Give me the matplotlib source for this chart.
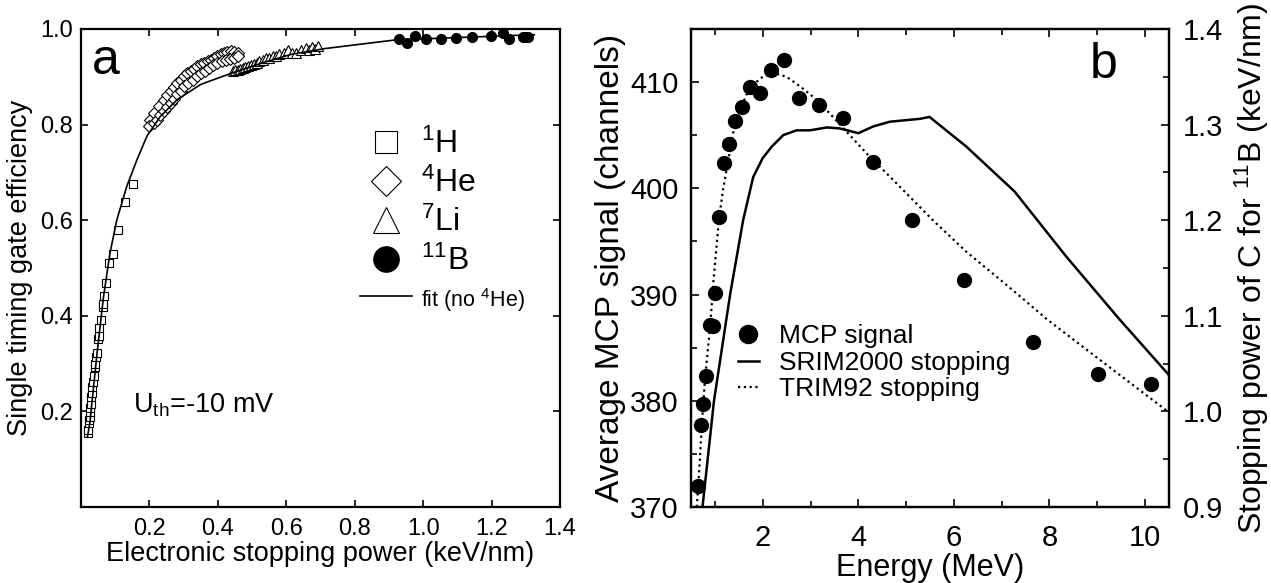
import matplotlib
matplotlib.use('Agg')
import matplotlib.pyplot as plt
from matplotlib.ticker import MultipleLocator

plt.rcParams['font.family'] = ['Liberation Sans', 'DejaVu Sans']
plt.rcParams['mathtext.fontset'] = 'custom'
plt.rcParams['mathtext.rm'] = 'Liberation Sans'
plt.rcParams['mathtext.it'] = 'Liberation Sans'
plt.rcParams['axes.linewidth'] = 1.6

# panel a : timing gate efficiency vs electronic stopping power
h_x = [0.021, 0.022, 0.023, 0.024, 0.025, 0.026, 0.027, 0.028, 0.030, 0.031, 0.033, 0.035,
       0.037, 0.040, 0.042, 0.044, 0.046, 0.049, 0.052, 0.054, 0.058, 0.063, 0.065, 0.068,
       0.074, 0.082, 0.095, 0.107, 0.129, 0.152]
h_y = [0.154, 0.162, 0.175, 0.182, 0.189, 0.198, 0.207, 0.215, 0.230, 0.238, 0.252, 0.262,
       0.273, 0.292, 0.300, 0.313, 0.322, 0.351, 0.358, 0.374, 0.392, 0.419, 0.424, 0.442,
       0.468, 0.510, 0.530, 0.580, 0.637, 0.676]

he_x = [0.203, 0.213, 0.227, 0.242, 0.252, 0.262, 0.272, 0.281, 0.291, 0.301, 0.311, 0.321,
        0.330, 0.340, 0.350, 0.360, 0.370, 0.379, 0.389, 0.399, 0.409, 0.419, 0.428, 0.438,
        0.448, 0.458,
        0.200, 0.212, 0.222, 0.232, 0.242, 0.252, 0.262, 0.272, 0.281, 0.291, 0.301, 0.313,
        0.326, 0.338, 0.350, 0.362, 0.374, 0.387, 0.399, 0.411, 0.424, 0.436, 0.448, 0.458]
he_y = [0.810, 0.825, 0.838, 0.852, 0.862, 0.870, 0.879, 0.887, 0.894, 0.901, 0.907, 0.912,
        0.917, 0.922, 0.926, 0.929, 0.933, 0.936, 0.940, 0.943, 0.947, 0.950, 0.952, 0.953,
        0.952, 0.950,
        0.796, 0.803, 0.810, 0.819, 0.828, 0.836, 0.845, 0.854, 0.863, 0.871, 0.880, 0.887,
        0.894, 0.901, 0.908, 0.913, 0.919, 0.924, 0.929, 0.933, 0.936, 0.938, 0.940, 0.944]

li_x = [0.443, 0.451, 0.458, 0.466, 0.473, 0.480, 0.487, 0.497, 0.507, 0.514, 0.521, 0.531,
        0.541, 0.551, 0.561, 0.570, 0.580, 0.592, 0.605, 0.617, 0.629, 0.644, 0.659, 0.667,
        0.674, 0.684, 0.693]
li_y = [0.912, 0.915, 0.915, 0.917, 0.919, 0.920, 0.922, 0.924, 0.926, 0.929, 0.933, 0.935,
        0.940, 0.939, 0.943, 0.944, 0.947, 0.950, 0.957, 0.949, 0.950, 0.955, 0.961, 0.956,
        0.963, 0.958, 0.964]

b_x = [0.929, 0.953, 0.977, 1.007, 1.051, 1.097, 1.144, 1.198, 1.232, 1.250, 1.291, 1.298, 1.306]
b_y = [0.978, 0.971, 0.986, 0.978, 0.980, 0.981, 0.983, 0.985, 0.991, 0.980, 0.984, 0.984, 0.984]

fit_x = [0.019, 0.026, 0.036, 0.046, 0.056, 0.066, 0.085, 0.105, 0.134, 0.164, 0.193, 0.232,
         0.281, 0.350, 0.438, 0.530, 0.615, 0.713, 0.918, 1.100, 1.325]
fit_y = [0.147, 0.176, 0.245, 0.315, 0.378, 0.440, 0.532, 0.601, 0.671, 0.727, 0.776, 0.817,
         0.852, 0.884, 0.907, 0.929, 0.947, 0.959, 0.977, 0.982, 0.988]

# panel b : MCP signal and stopping power vs energy
e_mcp = [0.64, 0.70, 0.76, 0.81, 0.90, 0.95, 1.00, 1.09, 1.19, 1.30, 1.42, 1.57, 1.73, 1.94,
         2.17, 2.44, 2.76, 3.18, 3.68, 4.31, 5.13, 6.21, 7.65, 9.01, 10.13]
mcp = [372.0, 377.7, 379.7, 382.3, 387.1, 387.0, 390.1, 397.3, 402.4, 404.2, 406.3, 407.7,
       409.5, 409.0, 411.1, 412.1, 408.5, 407.8, 406.6, 402.5, 397.0, 391.4, 385.5, 382.5, 381.6]

e_srim = [0.74, 0.98, 1.32, 1.59, 1.80, 2.00, 2.19, 2.43, 2.71, 2.99, 3.34, 3.61, 4.00, 4.31,
          4.66, 5.29, 5.49, 6.26, 7.27, 8.35, 9.47, 10.50]
srim = [0.900, 1.011, 1.123, 1.200, 1.245, 1.265, 1.277, 1.289, 1.294, 1.294, 1.297, 1.296,
        1.291, 1.298, 1.303, 1.306, 1.308, 1.277, 1.230, 1.162, 1.096, 1.038]

e_trim = [0.62, 0.65, 0.72, 0.79, 0.90, 0.97, 1.09, 1.18, 1.28, 1.38, 1.52, 1.73, 2.00, 2.22,
          2.50, 2.78, 3.13, 3.47, 4.17, 4.87, 5.56, 6.26, 6.89, 7.44, 7.93, 9.00, 10.50]
trim = [0.900, 0.921, 0.981, 1.033, 1.089, 1.137, 1.204, 1.235, 1.263, 1.291, 1.315, 1.339,
        1.350, 1.354, 1.350, 1.340, 1.326, 1.308, 1.270, 1.235, 1.200, 1.167, 1.141, 1.118,
        1.097, 1.056, 0.999]

fig = plt.figure(figsize=(12.71, 5.83), dpi=100)
ax1 = fig.add_axes([0.0637, 0.1304, 0.3769, 0.8199])
ax2 = fig.add_axes([0.5437, 0.1304, 0.3760, 0.8199])
ax3 = ax2.twinx()

# ---- panel a
ax1.plot(fit_x, fit_y, '-', color='black', lw=1.2, label='fit (no $^{4}$He)', zorder=3)
ax1.plot(h_x, h_y, 's', ms=6.3, mfc='white', mec='black', mew=0.8, label='$^{1}$H')
ax1.plot(he_x, he_y, 'D', ms=6, mfc='white', mec='black', mew=0.8, label='$^{4}$He')
ax1.plot(li_x, li_y, '^', ms=7, mfc='white', mec='black', mew=0.8, label='$^{7}$Li')
ax1.plot(b_x, b_y, 'o', ms=7, mfc='black', mec='black', label='$^{11}$B', zorder=4)

ax1.set_xlim(0, 1.4)
ax1.set_ylim(0, 1.0)
ax1.set_xticks([0.2, 0.4, 0.6, 0.8, 1.0, 1.2, 1.4])
ax1.set_yticks([0.2, 0.4, 0.6, 0.8, 1.0])
ax1.tick_params(direction='in', length=5, width=1.2, top=True, right=True, labelsize=17)
ax1.tick_params(axis='x', pad=8)
ax1.tick_params(axis='y', pad=6)
ax1.set_xlabel('Electronic stopping power (keV/nm)', fontsize=19.5, labelpad=1)
ax1.set_ylabel('Single timing gate efficiency', fontsize=19.5, labelpad=5)
ax1.text(0.022, 0.905, 'a', transform=ax1.transAxes, fontsize=36, va='baseline')
ax1.text(0.109, 0.197, 'U$_{\\rm th}$=-10 mV', transform=ax1.transAxes, fontsize=19.5,
         va='baseline')

hs, ls = ax1.get_legend_handles_labels()
order = [1, 2, 3, 4, 0]
leg1 = ax1.legend([hs[i] for i in order], [ls[i] for i in order], loc='upper left',
                  bbox_to_anchor=(0.55, 0.825), frameon=False, fontsize=23, markerscale=2.6,
                  handlelength=1.6, handletextpad=0.3, labelspacing=0.24, borderpad=0)
leg1.get_texts()[4].set_fontsize(15.5)

# ---- panel b
ax2.plot(e_mcp, mcp, 'o', ms=10, color='black', label='MCP signal', zorder=4)
ax3.plot(e_srim, srim, '-', color='black', lw=1.8, label='SRIM2000 stopping')
ax3.plot(e_trim, trim, color='black', lw=1.6, ls=(0, (1, 1.6)), label='TRIM92 stopping')

ax2.set_xlim(0.5, 10.5)
ax2.set_ylim(370, 415)
ax3.set_ylim(0.9, 1.4)
ax2.set_xticks([2, 4, 6, 8, 10])
ax2.xaxis.set_minor_locator(MultipleLocator(1))
ax2.set_yticks([370, 380, 390, 400, 410])
ax2.yaxis.set_minor_locator(MultipleLocator(5))
ax3.set_yticks([0.9, 1.0, 1.1, 1.2, 1.3, 1.4])
ax3.yaxis.set_minor_locator(MultipleLocator(0.05))
ax2.tick_params(which='both', direction='in', width=1.2, top=True, right=False, labelsize=21)
ax2.tick_params(which='major', length=6)
ax2.tick_params(which='minor', length=4)
ax2.tick_params(axis='x', pad=12)
ax2.tick_params(axis='y', pad=9)
ax3.tick_params(which='both', direction='in', width=1.2, labelsize=21, pad=10)
ax3.tick_params(which='major', length=6)
ax3.tick_params(which='minor', length=4)
ax2.set_xlabel('Energy (MeV)', fontsize=22, labelpad=1)
ax2.set_ylabel('Average MCP signal (channels)', fontsize=24, labelpad=3)
ax3.set_ylabel('Stopping power of C for $^{11}$B (keV/nm)', fontsize=23, labelpad=7)
ax2.text(0.835, 0.897, 'b', transform=ax2.transAxes, fontsize=36, va='baseline')

h2, l2 = ax2.get_legend_handles_labels()
h3, l3 = ax3.get_legend_handles_labels()
ax3.legend(h2 + h3, l2 + l3, loc='upper left', bbox_to_anchor=(0.07, 0.41), frameon=False,
           fontsize=19, handlelength=0.8, handletextpad=0.75, labelspacing=0.1, borderpad=0,
           markerscale=1.3)

fig.savefig('out.png', dpi=100)
